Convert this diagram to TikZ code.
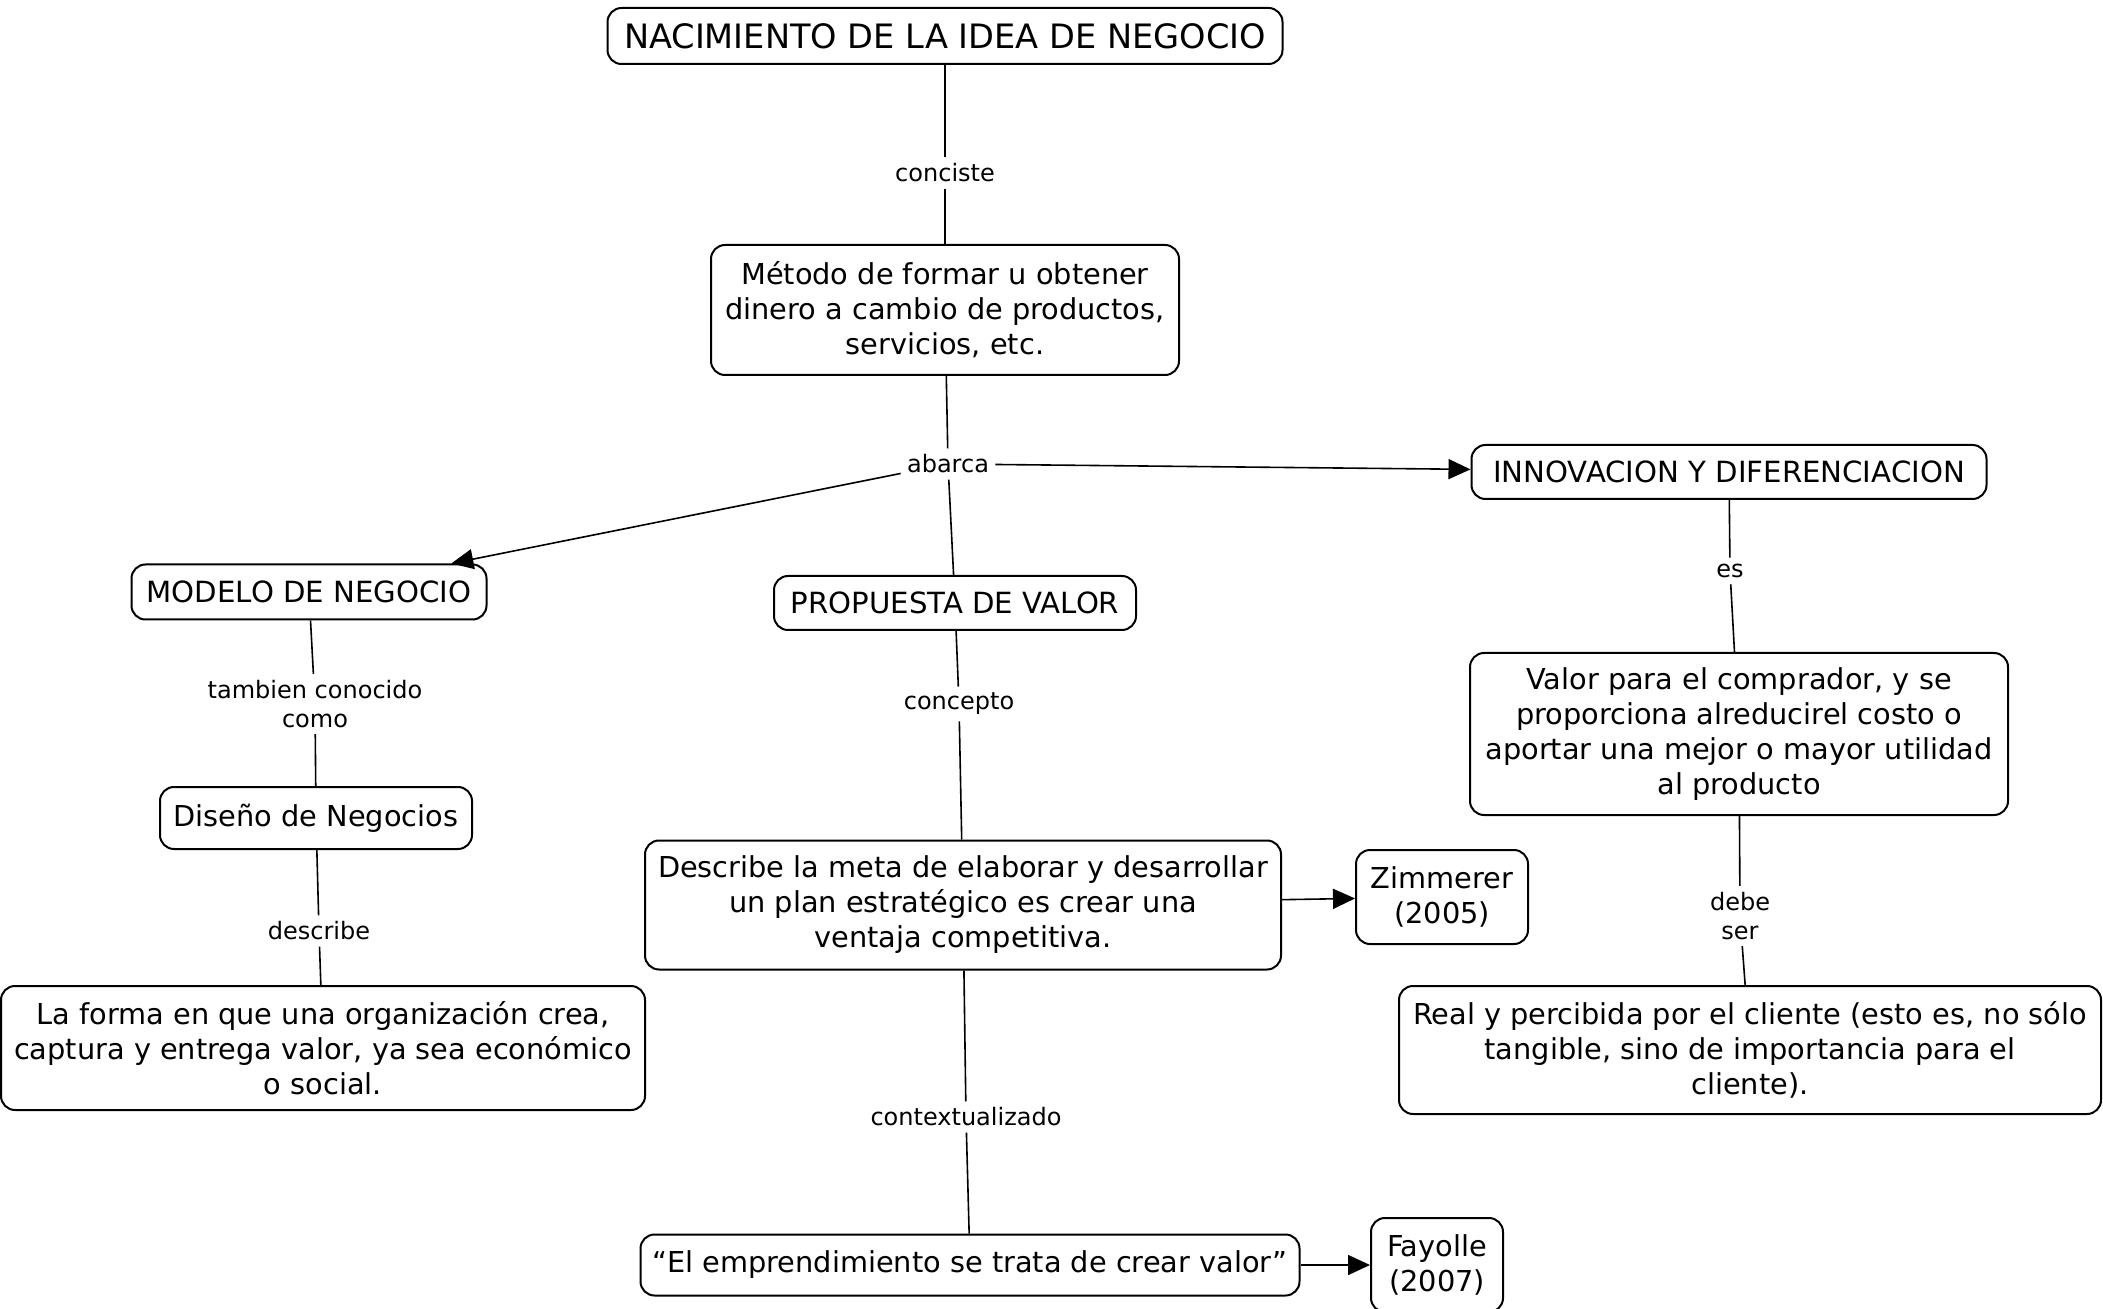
\documentclass[tikz,border=0pt]{standalone}
\usepackage{fontspec}
\setmainfont{DejaVu Sans}
\usetikzlibrary{arrows.meta}
\tikzstyle{concept} = [rectangle, rounded corners=7pt,
  draw=black, line width=1pt, fill=white,
  align=center, inner sep=2pt,
  font=\fontsize{14.4}{17.5}\selectfont]
\tikzstyle{title} = [concept,
  font=\fontsize{16.8}{19.5}\selectfont]
\tikzstyle{linking} = [align=center, inner sep=3pt,
  font=\fontsize{12}{14.5}\selectfont]
\tikzstyle{link} = [line width=0.8pt]
\tikzstyle{arrow} = [line width=0.8pt, -{Triangle[length=11pt,width=10pt]}]

\begin{document}
\begin{tikzpicture}[x=0.5pt, y=-0.5pt]
\useasboundingbox (0,0) rectangle (2103,1309);

%% ---- ROOT ----
\node (root) [title, minimum width=337.5pt, minimum height=28pt] at (945, 36)
  {NACIMIENTO DE LA IDEA DE NEGOCIO};
\node (met) [concept, minimum width=234pt, minimum height=65pt] at (945, 310)
  {Método de formar u obtener\\dinero a cambio de productos,\\servicios, etc.};

\node (l_conc) [linking] at (945, 173) {conciste};
\draw[link] (root) -- (l_conc);
\draw[link] (l_conc) -- (met);

%% ---- SECOND LEVEL ----
\node (mod) [concept, font=\fontsize{14.6}{17.5}\selectfont, minimum width=177.5pt, minimum height=27.5pt] at (309, 592)
  {MODELO DE NEGOCIO};
\node (prop) [concept, font=\fontsize{14.6}{17.5}\selectfont, minimum width=181pt, minimum height=27pt] at (955, 603)
  {PROPUESTA DE VALOR};
\node (inn) [concept, font=\fontsize{14.6}{17.5}\selectfont, minimum width=257.5pt, minimum height=27pt] at (1729, 472)
  {INNOVACION Y DIFERENCIACION};

\node (l_abar) [linking] at (948, 464) {abarca};
\draw[link]  (met) -- (l_abar);
\draw[arrow] (l_abar) -- (mod);
\draw[link]  (l_abar) -- (prop);
\draw[arrow] (l_abar) -- (inn);

%%=============================================================
%% MODELO DE NEGOCIO
%%=============================================================
\node (dis) [concept, minimum width=156pt, minimum height=31pt] at (316, 818)
  {Diseño de Negocios};
\node (forma) [concept, minimum width=322pt, minimum height=62pt] at (323, 1048)
  {La forma en que una organización crea,\\captura y entrega valor, ya sea económico\\o social.};

\node (l_tamb) [linking] at (315, 704) {tambien conocido\\como};
\node (l_desc) [linking] at (319, 931) {describe};
\draw[link] (mod) -- (l_tamb);
\draw[link] (l_tamb) -- (dis);
\draw[link] (dis) -- (l_desc);
\draw[link] (l_desc) -- (forma);

%%=============================================================
%% PROPUESTA DE VALOR
%%=============================================================
\node (meta) [concept, minimum width=318pt, minimum height=64.5pt] at (963, 905)
  {Describe la meta de elaborar y desarrollar\\un plan estratégico es crear una\\ventaja competitiva.};
\node (zim) [concept, minimum width=86pt, minimum height=47pt] at (1442, 897)
  {Zimmerer\\(2005)};
\node (empr) [concept, minimum width=329.5pt, minimum height=30.5pt] at (970, 1265)
  {“El emprendimiento se trata de crear valor”};
\node (fay) [concept, minimum width=66pt, minimum height=47pt] at (1437, 1265)
  {Fayolle\\(2007)};

\node (l_conp) [linking] at (959, 704) {concepto};
\node (l_cont) [linking] at (966, 1117) {contextualizado};
\draw[link]  (prop) -- (l_conp);
\draw[link]  (l_conp) -- (meta);
\draw[arrow] (meta) -- (zim);
\draw[link]  (meta) -- (l_cont);
\draw[link]  (l_cont) -- (empr);
\draw[arrow] (empr) -- (fay);

%%=============================================================
%% INNOVACION Y DIFERENCIACION
%%=============================================================
\node (val) [concept, minimum width=269pt, minimum height=81pt] at (1739, 734)
  {Valor para el comprador, y se\\proporciona alreducirel costo o\\aportar una mejor o mayor utilidad\\al producto};
\node (real) [concept, minimum width=351pt, minimum height=64pt] at (1750, 1050)
  {Real y percibida por el cliente (esto es, no sólo\\tangible, sino de importancia para el\\cliente).};

\node (l_es) [linking] at (1730, 571) {es};
\node (l_debe) [linking] at (1740, 916) {debe\\ser};
\draw[link] (inn) -- (l_es);
\draw[link] (l_es) -- (val);
\draw[link] (val) -- (l_debe);
\draw[link] (l_debe) -- (real);

\end{tikzpicture}
\end{document}
